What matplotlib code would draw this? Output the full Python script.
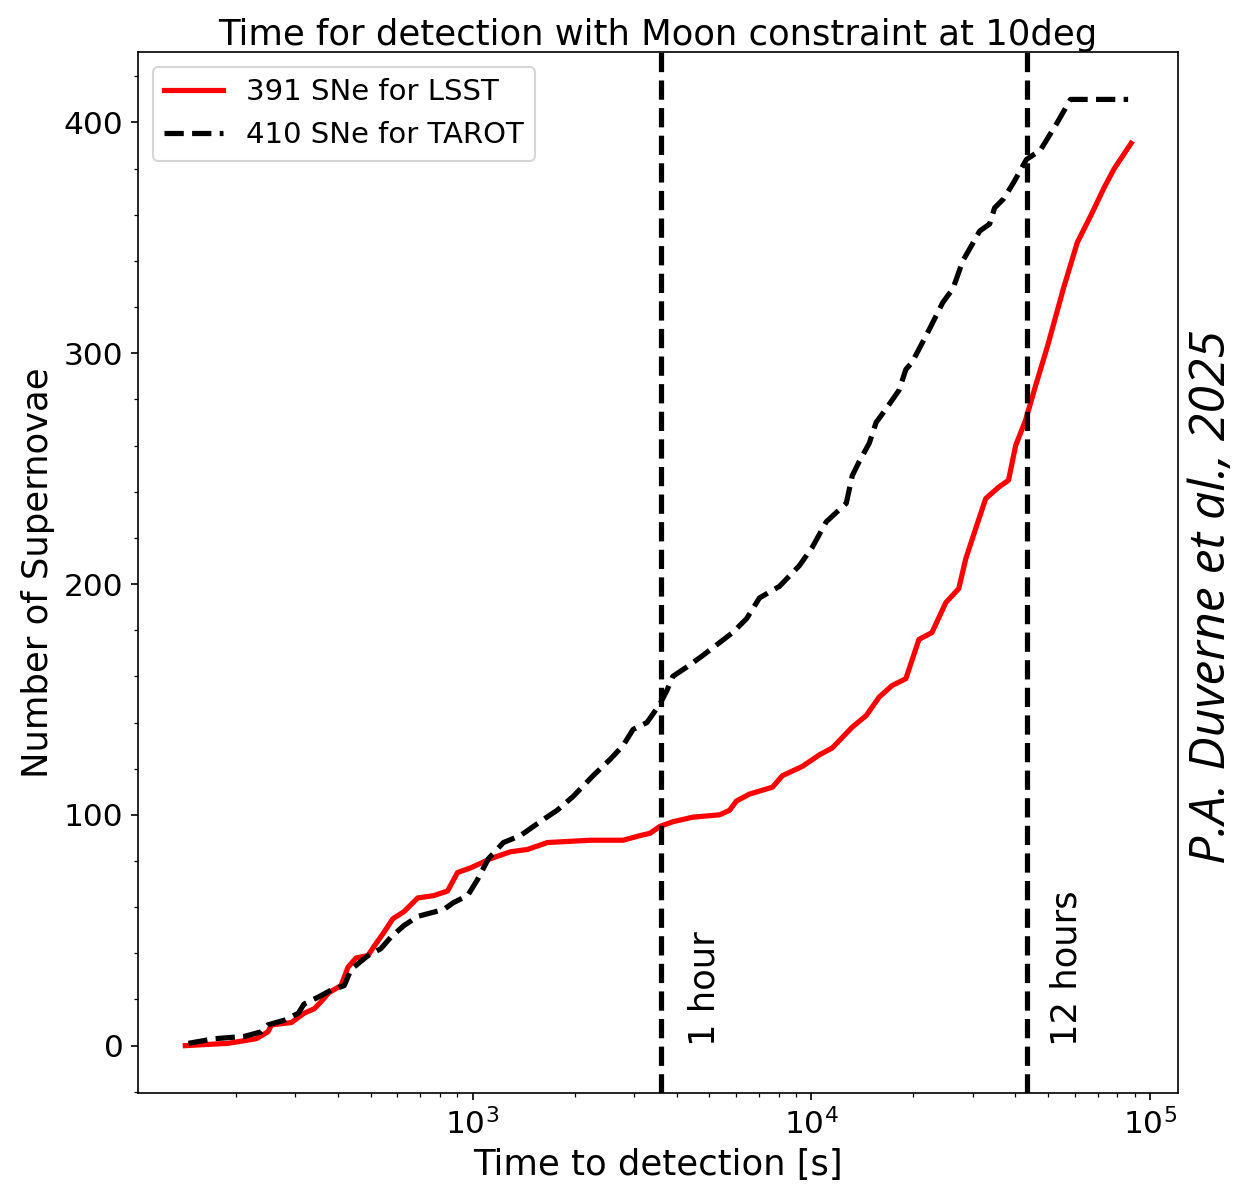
import numpy as np
import matplotlib
matplotlib.use('Agg')
import matplotlib.pyplot as plt

# LSST: time to detection [s] and cumulative number of SNe
lsst_t = [142, 190, 230, 249, 255, 292, 318, 341, 357, 377, 409, 429, 453, 491,
          512, 547, 582, 627, 689, 768, 844, 903, 986, 1130, 1294, 1452, 1663,
          2225, 2781, 3120, 3340, 3573, 3900, 4467, 5360, 5740, 6010, 6570, 7680,
          8220, 9410, 10560, 11530, 13200, 14520, 15850, 17300, 19010, 20780,
          22700, 24950, 27230, 28570, 30550, 32700, 35730, 38200, 40090, 42880,
          45920, 49770, 55460, 60950, 66990, 73280, 78340, 87900]
lsst_n = [0, 1, 3, 6, 9, 10, 14, 16, 19, 23, 26, 34, 38, 39,
          43, 49, 55, 58, 64, 65, 67, 75, 77, 81, 84, 85, 88,
          89, 89, 91, 92, 95, 97, 99, 100, 102, 106, 109, 112,
          117, 121, 126, 129, 138, 143, 151, 156, 159, 176,
          179, 192, 198, 211, 224, 237, 242, 245, 260, 271,
          286, 303, 328, 348, 360, 372, 380, 391]

# TAROT
tarot_t = [145, 173, 212, 238, 249, 278, 306, 318, 350, 382, 418, 438, 491, 536,
           574, 627, 689, 822, 879, 967, 1035, 1114, 1233, 1384, 1618, 1778,
           1982, 2270, 2546, 2781, 2977, 3272, 3573, 3750, 3900, 4285, 4776,
           5860, 6440, 7030, 8050, 9220, 10070, 11070, 12680, 13210, 13840,
           14820, 15530, 16630, 18150, 19010, 19820, 22230, 24430, 26180, 27990,
           31410, 33590, 34750, 36970, 39550, 43150, 47430, 53210, 58210, 86100]
tarot_n = [1, 3, 4, 6, 9, 11, 14, 18, 21, 24, 26, 33, 39, 42,
           47, 52, 56, 59, 62, 65, 72, 81, 88, 91, 98, 102,
           108, 117, 124, 130, 137, 140, 148, 154, 160, 164, 169,
           179, 185, 194, 199, 208, 216, 227, 235, 247, 253,
           261, 270, 276, 284, 293, 296, 310, 322, 328, 340,
           353, 356, 363, 367, 374, 384, 388, 400, 410, 410]

hour_lines = [3600, 43200]
hour_labels = ['1 hour', '12 hours']
hour_text_x = [4300, 50500]

fig = plt.figure(figsize=(1255 / 150, 1195 / 150), dpi=150)
ax = fig.add_axes([0.110, 0.0854, 0.829, 0.871])

ax.plot(lsst_t, lsst_n, c='r', lw=2.5, label='391 SNe for LSST')
ax.plot(tarot_t, tarot_n, 'k--', lw=2.5, label='410 SNe for TAROT')
ax.set_xscale('log')
ax.minorticks_on()

for xv, lab, xt in zip(hour_lines, hour_labels, hour_text_x):
    ax.axvline(xv, c='k', ls='--', lw=2.5)
    ax.text(xt, 0, lab, rotation=90, ha='left', va='bottom', fontsize=17)

ax.set_xlabel('Time to detection [s]', fontsize=17)
ax.set_ylabel('Number of Supernovae', fontsize=17)
ax.set_title('Time for detection with Moon constraint at 10deg', fontsize=17, pad=2)
ax.tick_params(labelsize=15)
ax.legend(loc='upper left', fontsize=14)

fig.text(0.966, 0.50, 'P.A. Duverne et al., 2025', rotation=90, ha='center',
         va='center', fontsize=24, style='italic', family='Open Sans')

fig.savefig('out.png', dpi=150)
